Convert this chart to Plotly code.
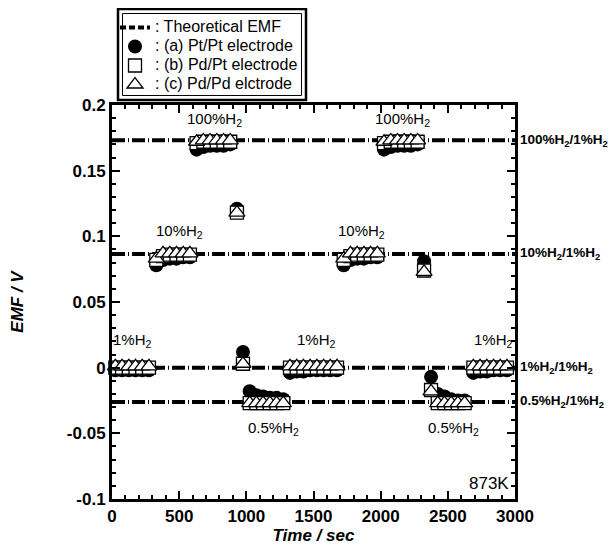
import plotly.graph_objects as go

# ---------------- data ----------------
time_s = [25, 75, 125, 175, 225, 275,
          330, 380, 430, 480, 530, 580,
          630, 680, 730, 780, 830, 880,
          930, 975,
          1025, 1075, 1125, 1175, 1225, 1275,
          1325, 1375, 1425, 1475, 1525, 1575, 1625, 1675,
          1725, 1775, 1825, 1875, 1925, 1975,
          2025, 2075, 2125, 2175, 2225, 2275,
          2323, 2375,
          2425, 2475, 2525, 2575, 2625,
          2690, 2740, 2790, 2840, 2890, 2940]

emf_a = [-0.002, -0.002, -0.002, -0.002, -0.002, -0.002,
         0.078, 0.082, 0.083, 0.083, 0.084, 0.084,
         0.166, 0.168, 0.169, 0.169, 0.169, 0.170,
         0.121, 0.012,
         -0.018, -0.021, -0.022, -0.023, -0.023, -0.024,
         -0.004, -0.003, -0.003, -0.002, -0.002, -0.002, -0.002, -0.002,
         0.078, 0.082, 0.083, 0.083, 0.084, 0.084,
         0.166, 0.168, 0.169, 0.169, 0.169, 0.170,
         0.081, -0.007,
         -0.020, -0.022, -0.024, -0.025, -0.025,
         -0.004, -0.003, -0.003, -0.002, -0.002, -0.002]

emf_b = [0.000, 0.000, 0.000, 0.000, 0.000, 0.000,
         0.082, 0.085, 0.086, 0.086, 0.086, 0.086,
         0.171, 0.172, 0.172, 0.172, 0.172, 0.172,
         0.118, 0.003,
         -0.027, -0.027, -0.027, -0.027, -0.027, -0.027,
         0.000, 0.000, 0.000, 0.000, 0.000, 0.000, 0.000, 0.000,
         0.082, 0.085, 0.086, 0.086, 0.086, 0.086,
         0.171, 0.172, 0.172, 0.172, 0.172, 0.172,
         0.074, -0.017,
         -0.027, -0.027, -0.027, -0.027, -0.027,
         0.000, 0.000, 0.000, 0.000, 0.000, 0.000]

emf_c = [0.001, 0.001, 0.001, 0.001, 0.001, 0.001,
         0.083, 0.087, 0.087, 0.087, 0.087, 0.087,
         0.172, 0.173, 0.173, 0.173, 0.173, 0.173,
         0.118, 0.003,
         -0.027, -0.027, -0.027, -0.027, -0.027, -0.027,
         0.001, 0.001, 0.001, 0.001, 0.001, 0.001, 0.001, 0.001,
         0.083, 0.087, 0.087, 0.087, 0.087, 0.087,
         0.172, 0.173, 0.173, 0.173, 0.173, 0.173,
         0.073, -0.018,
         -0.027, -0.027, -0.027, -0.027, -0.027,
         0.001, 0.001, 0.001, 0.001, 0.001, 0.001]

theory_levels = [0.1732, 0.0866, 0.0, -0.0261]
theory_labels = ["100%H<sub>2</sub>/1%H<sub>2</sub>", "10%H<sub>2</sub>/1%H<sub>2</sub>",
                 "1%H<sub>2</sub>/1%H<sub>2</sub>", "0.5%H<sub>2</sub>/1%H<sub>2</sub>"]

gas_labels = ["1%H<sub>2</sub>", "10%H<sub>2</sub>", "100%H<sub>2</sub>", "0.5%H<sub>2</sub>",
              "1%H<sub>2</sub>", "10%H<sub>2</sub>", "100%H<sub>2</sub>", "0.5%H<sub>2</sub>",
              "1%H<sub>2</sub>"]
gas_label_t = [150, 500, 760, 1200, 1520, 1860, 2160, 2540, 2837]
gas_label_v = [0.021, 0.104, 0.189, -0.046, 0.021, 0.104, 0.189, -0.046, 0.021]

legend_names = [": Theoretical EMF", ": (a) Pt/Pt electrode", ": (b) Pd/Pt electrode",
                ": (c) Pd/Pd elctrode"]

x_tick_vals = [0, 500, 1000, 1500, 2000, 2500, 3000]
x_tick_text = ["0", "500", "1000", "1500", "2000", "2500", "3000"]
y_tick_vals = [-0.1, -0.05, 0, 0.05, 0.1, 0.15, 0.2]
y_tick_text = ["-0.1", "-0.05", "0", "0.05", "0.1", "0.15", "0.2"]

# ---------------- layout geometry ----------------
W, H = 616, 547
ML, MR, MT, MB = 104, 109, 97, 56
PW, PH = W - ML - MR, H - MT - MB
FONT = "Liberation Sans, Arial, sans-serif"


def px2paper_x(px):
    return (px - ML) / PW


def px2paper_y(py):
    return (H - MB - py) / PH


def leg(txt):
    return '<span style="font-size:16px">' + txt + '</span>'


fig = go.Figure()

# theoretical lines (from levels)
tx, ty = [], []
for lv in theory_levels:
    tx += [0, 3000, None]
    ty += [lv, lv, None]
fig.add_trace(go.Scatter(x=tx, y=ty, mode="lines", showlegend=False,
                         line=dict(color="black", width=4, dash="13px,3px,1px,3px"),
                         hoverinfo="skip"))
# legend sample for theoretical
fig.add_trace(go.Scatter(x=[None], y=[None], mode="lines", name=leg(legend_names[0]),
                         line=dict(color="black", width=4, dash="6px,3px")))

fig.add_trace(go.Scatter(x=time_s, y=emf_a, mode="markers", name=leg(legend_names[1]),
                         marker=dict(symbol="circle", size=14, color="black",
                                     line=dict(color="black", width=0)), cliponaxis=False))
fig.add_trace(go.Scatter(x=time_s, y=emf_b, mode="markers", name=leg(legend_names[2]),
                         marker=dict(symbol="square", size=13, color="white",
                                     line=dict(color="black", width=1.3)), cliponaxis=False))
fig.add_trace(go.Scatter(x=time_s, y=emf_c, mode="markers", name=leg(legend_names[3]),
                         marker=dict(symbol="triangle-up", size=14, color="white",
                                     line=dict(color="black", width=1.3)), cliponaxis=False))

annotations = []
for lv, lab in zip(theory_levels, theory_labels):
    annotations.append(dict(x=1.0, xref="paper", y=lv, yref="y", text="<b>" + lab + "</b>",
                            showarrow=False, xanchor="left", yanchor="middle", xshift=3,
                            font=dict(family=FONT, size=13.5, color="black")))
for t, v, lab in zip(gas_label_t, gas_label_v, gas_labels):
    annotations.append(dict(x=t, y=v, xref="x", yref="y", text=lab, showarrow=False,
                            xanchor="center", yanchor="middle",
                            font=dict(family=FONT, size=15, color="black")))
annotations.append(dict(x=0.99, xref="paper", y=-0.088, yref="y", text="873K",
                        showarrow=False, xanchor="right", yanchor="middle",
                        font=dict(family=FONT, size=17, color="black")))

shapes = [
    dict(type="rect", xref="paper", yref="paper",
         x0=px2paper_x(110), x1=px2paper_x(298), y0=px2paper_y(92), y1=px2paper_y(1),
         line=dict(color="black", width=2.5), fillcolor="rgba(0,0,0,0)"),
    dict(type="rect", xref="paper", yref="paper",
         x0=px2paper_x(114.5), x1=px2paper_x(293.5), y0=px2paper_y(87.5), y1=px2paper_y(5.5),
         line=dict(color="black", width=1), fillcolor="rgba(0,0,0,0)"),
]

axis_common = dict(showline=True, linecolor="black", linewidth=3, mirror="allticks",
                   ticks="inside", ticklen=8, tickwidth=2, tickcolor="black",
                   showgrid=False, zeroline=False)

fig.update_layout(
    width=W, height=H,
    margin=dict(l=ML, r=MR, t=MT, b=MB, autoexpand=False),
    paper_bgcolor="white", plot_bgcolor="white",
    font=dict(family=FONT, color="black"),
    xaxis=dict(range=[0, 3000], tickmode="array", tickvals=x_tick_vals, ticktext=x_tick_text,
               tickfont=dict(family=FONT, size=17, weight="bold"),
               minor=dict(dtick=100, ticks="inside", ticklen=4, tickwidth=2, tickcolor="black"),
               title=dict(text="<b><i>Time / sec</i></b>", font=dict(family=FONT, size=17),
                          standoff=3),
               **axis_common),
    yaxis=dict(range=[-0.1, 0.2], tickmode="array", tickvals=y_tick_vals, ticktext=y_tick_text,
               tickfont=dict(family=FONT, size=17, weight="bold"),
               minor=dict(dtick=0.01, ticks="inside", ticklen=4, tickwidth=2, tickcolor="black"),
               title=dict(text="<b><i>EMF / V</i></b>", font=dict(family=FONT, size=17),
                          standoff=42),
               **axis_common),
    legend=dict(x=px2paper_x(107), y=px2paper_y(5), xanchor="left", yanchor="top",
                bgcolor="rgba(0,0,0,0)", borderwidth=0, tracegroupgap=0,
                font=dict(family=FONT, size=12, color="black")),
    annotations=annotations,
    shapes=shapes,
)

fig.write_html("out.html")
